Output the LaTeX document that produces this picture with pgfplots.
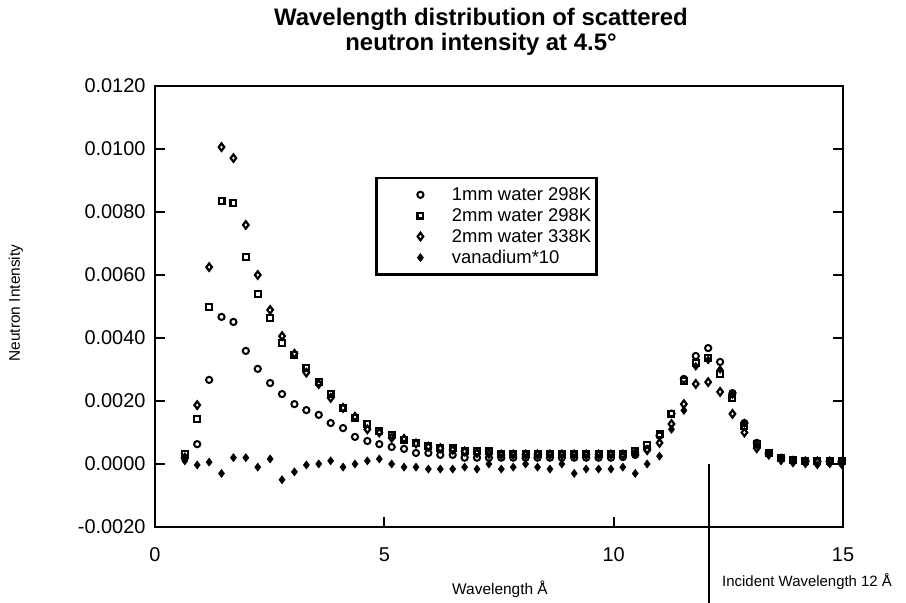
\documentclass[border=0pt]{standalone}
\usepackage{pgfplots}
\usepackage{pgfplotstable}
\pgfplotsset{compat=1.18}
\usepackage{fontspec}
\setmainfont{Liberation Sans}
\begin{document}
\pgfplotstableread{
x c s d v
0.65 0.00020 0.00032 0.00020 0.00010
0.92 0.00063 0.00143 0.00187 -0.00003
1.18 0.00267 0.00498 0.00625 0.00006
1.45 0.00467 0.00835 0.01006 -0.00030
1.71 0.00451 0.00829 0.00971 0.00020
1.98 0.00359 0.00657 0.00759 0.00020
2.24 0.00302 0.00540 0.00600 -0.00010
2.51 0.00257 0.00463 0.00489 0.00016
2.77 0.00222 0.00384 0.00406 -0.00050
3.04 0.00190 0.00346 0.00350 -0.00025
3.30 0.00171 0.00305 0.00290 -0.00003
3.57 0.00156 0.00260 0.00254 0.00000
3.83 0.00130 0.00222 0.00210 0.00010
4.10 0.00114 0.00178 0.00178 -0.00010
4.36 0.00086 0.00146 0.00150 0.00000
4.63 0.00073 0.00127 0.00110 0.00010
4.89 0.00063 0.00105 0.00100 0.00016
5.16 0.00054 0.00092 0.00083 0.00000
5.43 0.00048 0.00076 0.00080 -0.00010
5.69 0.00035 0.00067 0.00065 -0.00010
5.96 0.00035 0.00057 0.00055 -0.00016
6.22 0.00029 0.00051 0.00050 -0.00016
6.49 0.00029 0.00050 0.00045 -0.00016
6.75 0.00020 0.00041 0.00040 -0.00010
7.02 0.00020 0.00041 0.00035 -0.00016
7.28 0.00020 0.00040 0.00032 0.00000
7.55 0.00020 0.00032 0.00030 -0.00016
7.81 0.00020 0.00032 0.00030 -0.00010
8.08 0.00020 0.00032 0.00030 0.00000
8.34 0.00020 0.00032 0.00030 -0.00010
8.61 0.00020 0.00032 0.00030 -0.00016
8.87 0.00020 0.00032 0.00030 0.00000
9.14 0.00020 0.00032 0.00030 -0.00030
9.40 0.00020 0.00032 0.00030 -0.00016
9.67 0.00020 0.00032 0.00030 -0.00016
9.94 0.00020 0.00032 0.00030 -0.00016
10.20 0.00022 0.00032 0.00030 -0.00010
10.47 0.00029 0.00041 0.00035 -0.00030
10.73 0.00048 0.00060 0.00044 0.00000
11.00 0.00090 0.00095 0.00067 0.00025
11.26 0.00160 0.00160 0.00127 0.00110
11.53 0.00270 0.00263 0.00190 0.00170
11.79 0.00343 0.00320 0.00254 0.00310
12.06 0.00368 0.00337 0.00260 0.00330
12.32 0.00324 0.00286 0.00229 0.00300
12.59 0.00225 0.00210 0.00159 0.00220
12.85 0.00130 0.00120 0.00100 0.00130
13.12 0.00067 0.00063 0.00050 0.00060
13.38 0.00035 0.00035 0.00030 0.00030
13.65 0.00020 0.00020 0.00015 0.00010
13.91 0.00010 0.00012 0.00010 0.00003
14.18 0.00010 0.00010 0.00008 0.00000
14.44 0.00008 0.00010 0.00008 -0.00003
14.71 0.00008 0.00010 0.00008 0.00000
14.97 0.00008 0.00010 0.00006 -0.00002
}\datatable
\begin{tikzpicture}[x=1bp,y=1bp]
\path[use as bounding box] (0,0) rectangle (906,603);
\begin{axis}[
  scale only axis, width=688bp, height=441bp,
  anchor=south west, at={(155bp,76bp)},
  xmin=0, xmax=15, ymin=-0.002, ymax=0.012,
  xtick={0,5,10,15}, xticklabels={0,5,10,15},
  ytick={-0.002,0,0.002,0.004,0.006,0.008,0.01,0.012},
  yticklabels={-0.0020,0.0000,0.0020,0.0040,0.0060,0.0080,0.0100,0.0120},
  scaled y ticks=false,
  tick align=inside, major tick length=10bp,
  xtick pos=left, ytick pos=both,
  axis line style={line width=2bp},
  every tick/.style={line width=2bp, black},
  tick label style={font=\fontsize{20}{20}\selectfont},
  yticklabel style={xshift=-6bp},
  xticklabel style={yshift=-17bp},
  clip=false,
  legend cell align=left,
  legend style={at={(0.32,0.794)}, anchor=north west, draw=black, line width=2.5bp,
    font=\fontsize{18.5}{18.5}\selectfont, inner xsep=4bp, inner ysep=8bp,
    nodes={inner sep=1.5bp}, row sep=3.5bp},
  legend image code/.code={\path[draw=none,fill=none] (-40bp,0bp) -- (30bp,0bp); \draw[#1] plot coordinates {(0bp,0bp)};},
]
\addplot[only marks, mark=o, mark size=3.1bp, line width=2bp, black] table[x=x,y=c] {\datatable};
\addlegendentry{1mm water 298K}
\addplot[only marks, mark=square, mark size=2.9bp, line width=2.2bp, black] table[x=x,y=s] {\datatable};
\addlegendentry{2mm water 298K}
\addplot[only marks, mark=diamond, mark size=3.7bp, line width=2.2bp, black] table[x=x,y=d] {\datatable};
\addlegendentry{2mm water 338K}
\addplot[only marks, mark=diamond*, mark size=4bp, line width=0.6bp, black] table[x=x,y=v] {\datatable};
\addlegendentry{vanadium*10}
\draw[line width=2bp] (axis cs:12.07,0) -- (axis cs:12.07,-0.00445);
\end{axis}
\node[align=center, font=\fontsize{24}{25}\selectfont\bfseries] at (481,571) {Wavelength distribution of scattered\\neutron intensity at 4.5°};
\node[rotate=90, inner sep=0pt, font=\fontsize{15.5}{16}\selectfont] at (16,300) {Neutron Intensity};
\node[inner sep=0pt, font=\fontsize{15.5}{16}\selectfont] at (500,14) {Wavelength Å};
\node[anchor=west, inner sep=0pt, font=\fontsize{15}{16}\selectfont] at (722,21) {Incident Wavelength 12 Å};
\end{tikzpicture}
\end{document}
